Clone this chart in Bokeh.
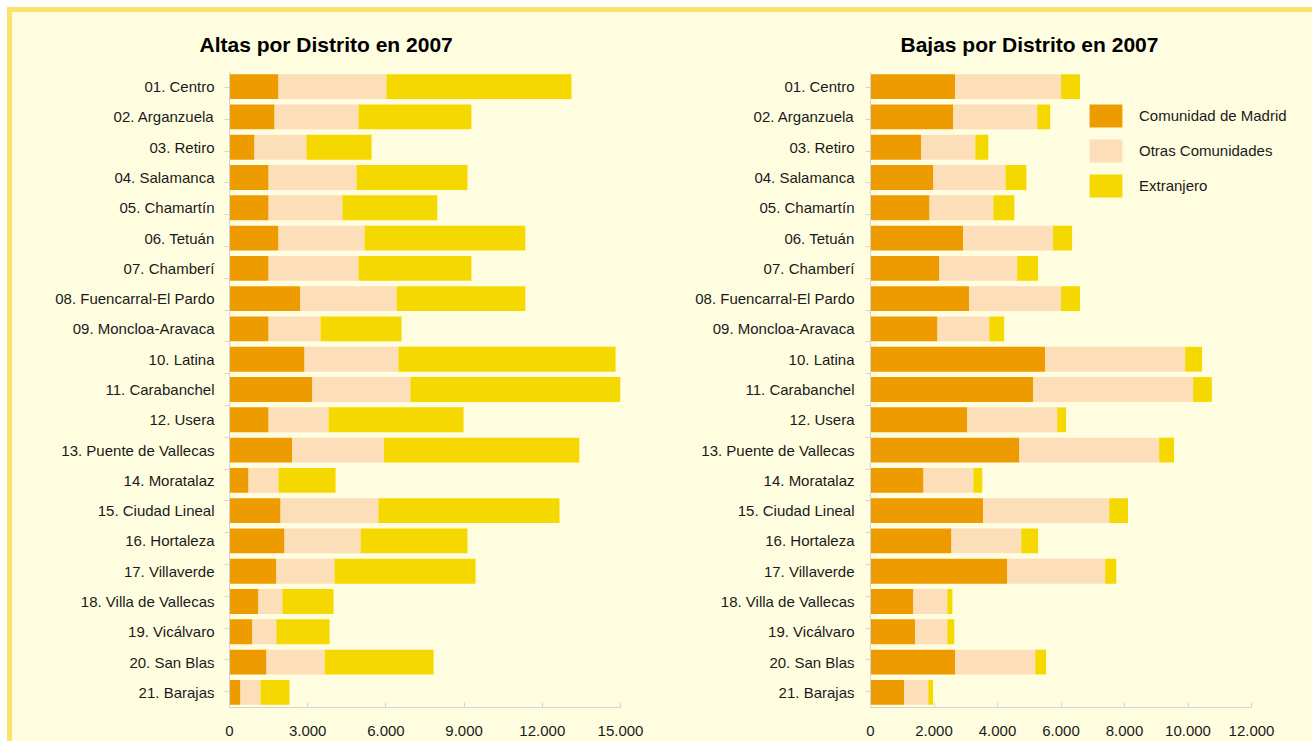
from bokeh.plotting import figure
from bokeh.layouts import row
from bokeh.models import (ColumnDataSource, FactorRange, Range1d, Legend, LegendItem,
                          CustomJSTickFormatter, FixedTicker, CategoricalAxis)
from bokeh.embed import file_html
from bokeh.resources import INLINE

districts = ["01. Centro", "02. Arganzuela", "03. Retiro", "04. Salamanca", "05. Chamartín",
             "06. Tetuán", "07. Chamberí", "08. Fuencarral-El Pardo", "09. Moncloa-Aravaca",
             "10. Latina", "11. Carabanchel", "12. Usera", "13. Puente de Vallecas",
             "14. Moratalaz", "15. Ciudad Lineal", "16. Hortaleza", "17. Villaverde",
             "18. Villa de Vallecas", "19. Vicálvaro", "20. San Blas", "21. Barajas"]

series_names = ["Comunidad de Madrid", "Otras Comunidades", "Extranjero"]

altas_cm = [1880, 1730, 960, 1500, 1500, 1880, 1500, 2720, 1500, 2880, 3180, 1500, 2400,
            730, 1960, 2110, 1800, 1110, 880, 1420, 420]
altas_oc = [4140, 3220, 1990, 3370, 2830, 3300, 3450, 3690, 1990, 3600, 3760, 2300, 3530,
            1150, 3750, 2920, 2230, 920, 920, 2230, 770]
altas_ex = [7100, 4330, 2500, 4260, 3640, 6170, 4330, 4940, 3110, 8330, 8330, 5180, 7490,
            2190, 6950, 4100, 5410, 1960, 2040, 4180, 1110]

bajas_cm = [2670, 2610, 1600, 1980, 1860, 2920, 2170, 3110, 2110, 5500, 5130, 3050, 4690,
            1670, 3550, 2550, 4310, 1350, 1410, 2670, 1060]
bajas_oc = [3330, 2640, 1700, 2270, 2010, 2830, 2450, 2890, 1630, 4410, 5030, 2830, 4400,
            1570, 3970, 2200, 3080, 1070, 1010, 2520, 760]
bajas_ex = [600, 410, 410, 660, 660, 600, 660, 600, 470, 530, 590, 280, 470,
            280, 590, 530, 350, 160, 220, 340, 150]

altas_ticks = [0, 3000, 6000, 9000, 12000, 15000]
bajas_ticks = [0, 2000, 4000, 6000, 8000, 10000, 12000]

COLORS = ["#EE9B00", "#FCDEB9", "#F5D800"]
BG = "#FFFDE0"
BORDER = "#FBE26A"
TXT = "#1A1A1A"
AXIS = "#D4D4D4"
FONT = "Liberation Sans"

fmt = CustomJSTickFormatter(code=r"return tick.toFixed(0).replace(/\B(?=(\d{3})+(?!\d))/g, '.');")


def make_chart(title, cm, oc, ex, ticks, x_end, width, min_left, min_right, title_offset,
               label_standoff):
    src = ColumnDataSource(dict(district=districts, cm=cm, oc=oc, ex=ex))
    p = figure(width=width, height=729, output_backend="svg", toolbar_location=None,
               y_range=FactorRange(factors=list(reversed(districts))),
               x_range=Range1d(ticks[0], x_end), y_axis_location=None,
               min_border_left=min_left, min_border_right=min_right,
               min_border_top=59, min_border_bottom=34)
    p.background_fill_color = BG
    p.border_fill_color = BG
    p.outline_line_color = None
    p.xgrid.grid_line_color = None
    p.ygrid.grid_line_color = None

    p.title.text = title
    p.title.align = "left"
    p.title.offset = title_offset
    p.title.text_font = FONT
    p.title.text_font_size = "21px"
    p.title.text_font_style = "bold"
    p.title.text_color = "#000000"
    p.title.standoff = 31

    rs = p.hbar_stack(["cm", "oc", "ex"], y="district", height=0.82, source=src,
                      fill_color=COLORS, line_color=None)

    p.xaxis.ticker = FixedTicker(ticks=ticks)
    p.xaxis.bounds = (ticks[0], ticks[-1])
    p.xaxis.formatter = fmt
    p.xaxis.axis_line_color = AXIS
    p.xaxis.major_tick_line_color = AXIS
    p.xaxis.major_tick_in = 5
    p.xaxis.major_tick_out = 0
    p.xaxis.minor_tick_line_color = None
    p.xaxis.major_label_text_font = FONT
    p.xaxis.major_label_text_font_size = "15px"
    p.xaxis.major_label_text_color = TXT
    p.xaxis.major_label_standoff = 18

    # category-boundary ticks: a second factor range whose factor centres sit on boundaries
    n = len(districts)
    bnames = ["b%d" % k for k in range(n + 1)]
    p.extra_y_ranges = {"bounds": FactorRange(factors=bnames, range_padding=-1,
                                              range_padding_units="absolute")}
    tick_axis = CategoricalAxis(y_range_name="bounds", axis_line_color=AXIS,
                                major_tick_line_color=AXIS, major_tick_in=0, major_tick_out=5,
                                minor_tick_line_color=None, major_label_standoff=0,
                                major_label_text_font_size="1px", major_label_text_alpha=0)
    p.add_layout(tick_axis, "left")
    cat_axis = CategoricalAxis(axis_line_color=None, major_tick_line_color=None,
                               minor_tick_line_color=None, major_label_text_font=FONT,
                               major_label_text_font_size="15px", major_label_text_color=TXT,
                               major_label_standoff=label_standoff)
    p.add_layout(cat_axis, "left")
    return p, rs


p1, r1 = make_chart("Altas por Distrito en 2007", altas_cm, altas_oc, altas_ex,
                    altas_ticks, 15000, 641, 217, 33, -30, 4)
p2, r2 = make_chart("Bajas por Distrito en 2007", bajas_cm, bajas_oc, bajas_ex,
                    bajas_ticks, 13921, 659, 217, 0, 30, 5)

legend = Legend(items=[LegendItem(label=nm, renderers=[r]) for nm, r in zip(series_names, r2)],
                location=(215, 507), glyph_width=41, glyph_height=29, label_standoff=13,
                spacing=6, padding=0, margin=0, border_line_color=None,
                background_fill_alpha=0, label_text_font=FONT, label_text_font_size="15px",
                label_text_color=TXT)
p2.add_layout(legend)

layout = row(p1, p2, styles={"margin-left": "7px", "margin-top": "7px",
                             "border-left": f"5px solid {BORDER}",
                             "border-top": f"5px solid {BORDER}",
                             "background-color": BG})

open("out.html", "w").write(file_html(layout, INLINE))
